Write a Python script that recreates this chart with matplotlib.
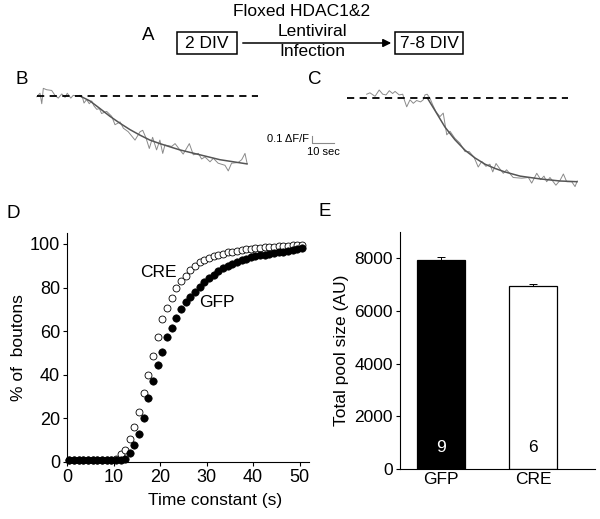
import matplotlib
matplotlib.use('Agg')
import matplotlib.pyplot as plt
from matplotlib.patches import Rectangle

plt.rcParams['font.family'] = ['Liberation Sans', 'DejaVu Sans']

# --- panel B trace (time in s, dF/F) ---
b_t = [0, 1.5, 2.3, 3.0, 4.5, 6.8, 8.3, 9.8, 11.4, 12.9, 13.9, 15.5, 16.6, 18.2, 19.7,
       20.9, 21.5, 22.7, 23.9, 25.0, 26.0, 27.3, 28.5, 29.5, 31.8, 34.1, 35.6, 37.9,
       39.4, 41.6, 44.7, 47.0, 48.2, 49.7, 51.2, 52.7, 54.5, 56.0, 57.3, 58.3, 61.4,
       62.9, 65.1, 66.6, 69.4, 71.2, 73.5, 75.0, 76.5, 78.8, 80.3, 82.5, 85.6, 87.1,
       88.6, 91.6, 93.2, 94.7, 95.7]
b_df = [-0.01, 0.04, -0.11, 0.11, 0.09, 0.08, 0.01, -0.03, 0.03, -0.02, 0.04, -0.03,
        0.01, 0.0, 0.01, -0.03, -0.10, -0.05, -0.11, -0.07, -0.14, -0.19, -0.18, -0.25,
        -0.22, -0.29, -0.41, -0.37, -0.46, -0.51, -0.63, -0.51, -0.49, -0.60, -0.75,
        -0.59, -0.77, -0.63, -0.82, -0.70, -0.72, -0.68, -0.77, -0.83, -0.68, -0.84,
        -0.82, -0.90, -0.87, -0.94, -0.89, -0.96, -0.99, -1.07, -0.96, -0.95, -0.91,
        -0.82, -0.97]
b_fit_t = [19.7, 24.2, 28.8, 33.3, 37.9, 42.4, 47.0, 51.5, 56.0, 62.0, 65.1, 74.2, 83.3, 95.6]
b_fit_df = [0, -0.07, -0.18, -0.29, -0.39, -0.48, -0.56, -0.63, -0.68, -0.74, -0.77,
            -0.84, -0.91, -0.97]

# --- panel C trace ---
c_t = [0, 1.5, 3.8, 5.7, 7.3, 8.8, 10.3, 11.8, 12.9, 14.8, 16.4, 17.1, 18.2, 19.7, 21.2,
       22.7, 24.5, 25.7, 26.5, 27.5, 28.8, 30.0, 31.5, 33.3, 34.8, 36.4, 37.9, 40.1,
       42.4, 44.7, 46.6, 48.8, 50.7, 52.3, 54.2, 56.0, 57.3, 58.8, 60.6, 62.1, 63.6,
       66.6, 70.5, 73.5, 75.0, 77.3, 79.1, 80.6, 81.8, 83.3, 86.0, 87.9, 89.4, 90.9,
       93.2, 94.7, 95.7]
c_df = [0.05, 0.07, 0.02, 0.11, 0.05, 0.04, 0.10, 0.06, 0.09, 0.04, 0.05, -0.03, -0.13,
        -0.03, -0.08, -0.04, -0.06, -0.03, 0.04, 0.05, -0.01, -0.10, -0.20, -0.27, -0.22,
        -0.53, -0.48, -0.58, -0.65, -0.77, -0.77, -0.85, -0.99, -0.91, -0.98, -0.95,
        -1.06, -0.94, -1.02, -1.08, -1.03, -1.14, -1.15, -1.14, -1.22, -1.08, -1.17,
        -1.12, -1.20, -1.14, -1.25, -1.18, -1.09, -1.20, -1.20, -1.27, -1.19]
c_fit_t = [27.5, 31.0, 35.6, 40.1, 44.7, 49.2, 53.8, 58.3, 62.8, 69.7, 78.8, 87.9, 95.6]
c_fit_df = [0, -0.18, -0.42, -0.60, -0.75, -0.86, -0.95, -1.01, -1.06, -1.12, -1.16,
            -1.19, -1.20]

# --- panel D cumulative distributions ---
tau = [0.5, 1.5, 2.5, 3.5, 4.5, 5.5, 6.5, 7.5, 8.5, 9.5, 10.5, 11.5, 12.5, 13.5, 14.5,
       15.5, 16.5, 17.5, 18.5, 19.5, 20.5, 21.5, 22.5, 23.5, 24.5, 25.5, 26.5, 27.5,
       28.5, 29.5, 30.5, 31.5, 32.5, 33.5, 34.5, 35.5, 36.5, 37.5, 38.5, 39.5, 40.5,
       41.5, 42.5, 43.5, 44.5, 45.5, 46.5, 47.5, 48.5, 49.5, 50.5]
gfp_cum = [1, 1, 1, 1, 1, 1, 1, 1, 1, 1, 1, 1, 1.5, 4, 8, 13, 20, 29.3, 37, 44.6, 50.6,
           57.2, 61.6, 65.8, 70.2, 73.3, 75.6, 77.8, 80.2, 82.5, 84.2, 85.9, 87.4, 88.8,
           90.0, 91.0, 91.9, 92.6, 93.3, 93.9, 94.4, 94.8, 95.1, 95.4, 95.8, 96.2, 96.5,
           96.9, 97.3, 97.7, 98.0]
cre_cum = [1, 1, 1, 1, 1, 1, 1, 1, 1, 1, 1.5, 3.5, 5.7, 10.7, 16, 23, 31.7, 40, 48.6,
           57.5, 65.5, 70.5, 75, 79.6, 83, 85.4, 88, 90, 91.5, 92.8, 93.6, 94.4, 95.0,
           95.6, 96.1, 96.5, 96.9, 97.2, 97.5, 97.8, 98.0, 98.2, 98.4, 98.6, 98.8, 99.0,
           99.1, 99.2, 99.3, 99.4, 99.5]

# --- panel E bars ---
groups = ['GFP', 'CRE']
pool = [7920, 6940]
pool_err = [140, 75]
n_cells = ['9', '6']

W, H = 600, 519
fig = plt.figure(figsize=(W / 100, H / 100), dpi=100)


def px_axes(left, top, right, bottom):
    return fig.add_axes([left / W, 1 - bottom / H, (right - left) / W, (bottom - top) / H])


# schematic (A) in pixel coordinates
ax0 = fig.add_axes([0, 0, 1, 1])
ax0.set_xlim(0, W)
ax0.set_ylim(H, 0)
ax0.axis('off')
fs_top = 12.5
ax0.text(148, 36, 'A', fontsize=13.5, ha='center', va='center')
ax0.add_patch(Rectangle((177, 32), 60, 21.5, fill=False, lw=1.1, ec='black'))
ax0.text(207, 43, '2 DIV', fontsize=fs_top, ha='center', va='center')
ax0.add_patch(Rectangle((395, 32), 68, 21.5, fill=False, lw=1.1, ec='black'))
ax0.text(429, 43, '7-8 DIV', fontsize=fs_top, ha='center', va='center')
ax0.annotate('', xy=(394, 43), xytext=(240, 43),
             arrowprops=dict(arrowstyle='-|>', color='black', lw=1.1, mutation_scale=12))
ax0.text(302, 12, 'Floxed HDAC1&2', fontsize=fs_top, ha='center', va='center')
ax0.text(312, 32, 'Lentiviral', fontsize=fs_top, ha='center', va='center')
ax0.text(312, 52, 'Infection', fontsize=fs_top, ha='center', va='center')
ax0.text(22, 80, 'B', fontsize=13.5, ha='center', va='center')
ax0.text(315, 80, 'C', fontsize=13.5, ha='center', va='center')
ax0.text(13, 214, 'D', fontsize=13.5, ha='center', va='center')
ax0.text(325, 212, 'E', fontsize=13.5, ha='center', va='center')

# trace B
axb = px_axes(30, 80, 265, 190)
axb.plot(b_t, b_df, color='#8a8a8a', lw=0.7)
axb.plot(b_fit_t, b_fit_df, color='#555555', lw=1.1)
axb.plot([0, 100.6], [0, 0], color='black', lw=1.3, ls=(0, (4, 3)))
axb.set_xlim(-3.05, 103.8)
axb.set_ylim(-1.343, 0.229)
axb.axis('off')

# trace C plus scale bar
axc = px_axes(265, 80, 590, 195)
axc.plot(c_t, c_df, color='#8a8a8a', lw=0.7)
axc.plot(c_fit_t, c_fit_df, color='#555555', lw=1.1)
axc.plot([-9.1, 91.5], [0, 0], color='black', lw=1.3, ls=(0, (4, 3)))
axc.plot([-24.9, -24.9, -14.9], [-0.547, -0.647, -0.647], color='#8a8a8a', lw=0.8)
axc.text(-26.2, -0.59, '0.1 \u0394F/F', fontsize=8, ha='right', va='center')
axc.text(-19.5, -0.78, '10 sec', fontsize=8, ha='center', va='center')
axc.set_xlim(-46.2, 101.5)
axc.set_ylim(-1.39, 0.253)
axc.axis('off')

fs = 12.5
# panel D
axd = px_axes(67, 233, 309, 462)
axd.plot(tau, cre_cum, 'o', ms=5.0, mfc='white', mec='black', mew=0.6, clip_on=False)
axd.plot(tau, gfp_cum, 'o', ms=5.3, mfc='black', mec='black', mew=0.5, clip_on=False)
axd.set_xlim(0, 52)
axd.set_ylim(0, 105)
axd.set_xticks([0, 10, 20, 30, 40, 50])
axd.set_yticks([0, 20, 40, 60, 80, 100])
axd.tick_params(labelsize=13, length=3, width=0.8, pad=2)
for s in ['top', 'right']:
    axd.spines[s].set_visible(False)
axd.text(15.8, 87, 'CRE', fontsize=fs, ha='left', va='center')
axd.text(28.3, 73, 'GFP', fontsize=fs, ha='left', va='center')
axd.set_ylabel('% of  boutons', fontsize=fs, labelpad=3)
ax0.text(215, 501, 'Time constant (s)', fontsize=fs, ha='center', va='center')

# panel E
axe = px_axes(400, 232, 595, 469)
axe.bar([0, 1], pool, width=0.53, color=['black', 'white'], edgecolor='black', lw=0.9)
axe.errorbar([0, 1], pool, yerr=[[0, 0], pool_err], fmt='none', ecolor='black',
             elinewidth=0.7, capsize=3, capthick=0.7)
axe.text(0, 800, n_cells[0], color='white', fontsize=fs, ha='center', va='center')
axe.text(1, 800, n_cells[1], color='black', fontsize=fs, ha='center', va='center')
axe.set_xlim(-0.446, 1.674)
axe.set_ylim(0, 9000)
axe.set_xticks([0, 1])
axe.set_xticklabels(groups)
axe.set_yticks([0, 2000, 4000, 6000, 8000])
axe.tick_params(labelsize=fs, length=3, width=0.8, pad=2)
axe.tick_params(axis='x', length=0)
for s in ['top', 'right']:
    axe.spines[s].set_visible(False)
axe.set_ylabel('Total pool size (AU)', fontsize=fs, labelpad=4)

fig.savefig('out.png', dpi=100)
